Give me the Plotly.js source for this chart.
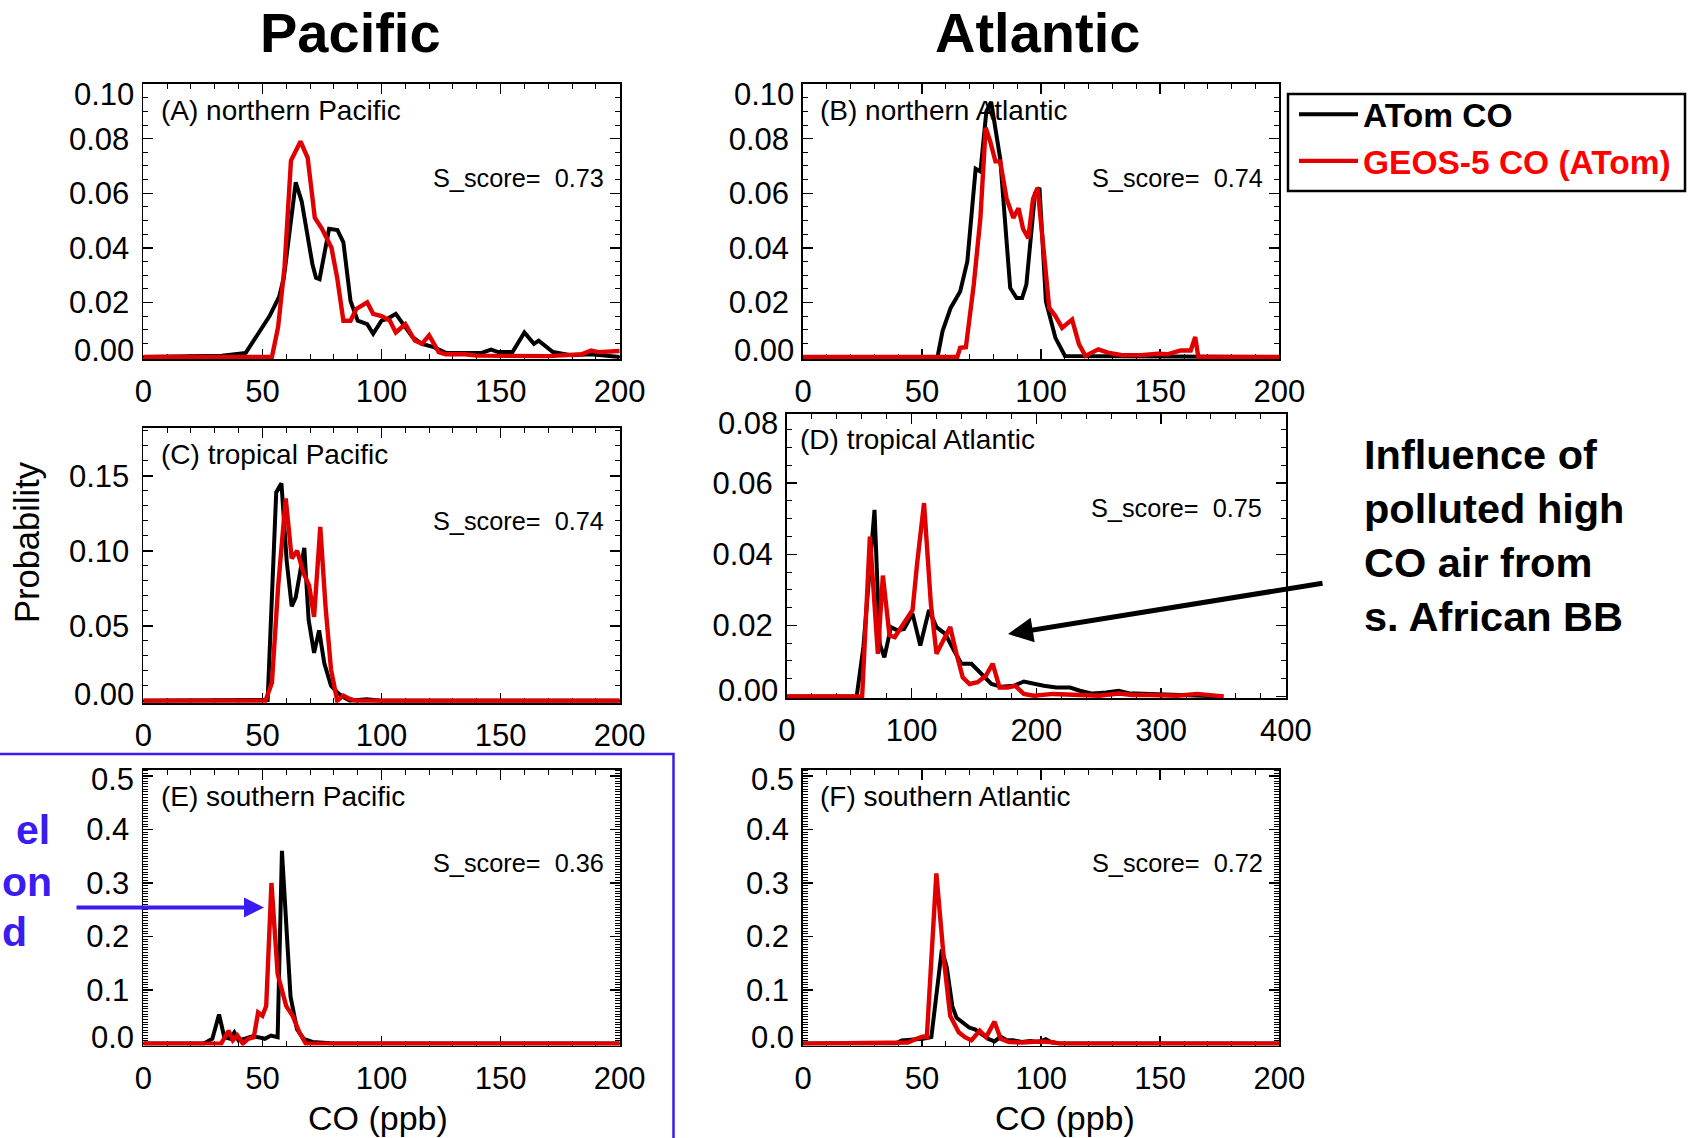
<!DOCTYPE html>
<html>
<head>
<meta charset="utf-8">
<script src="https://cdn.plot.ly/plotly-3.0.1.min.js"></script>
<style>html,body{margin:0;padding:0;background:#fff;} #chart{width:1690px;height:1138px;}</style>
</head>
<body>
<div id="chart"></div>
<script>
// ---------------- DATA ----------------
// Panel A: northern Pacific
const nPacObsX = [0, 33, 43, 48, 53, 57, 59, 64, 66.5, 71, 72.5, 74, 78, 81.5, 84, 87, 90, 94, 96.5, 100, 102.5, 106, 110, 113, 117, 122, 127, 134, 142, 146, 149, 155, 160, 164, 166, 172, 180, 188, 200];
const nPacObsY = [0, 0.0005, 0.0015, 0.0085, 0.015, 0.022, 0.029, 0.064, 0.057, 0.034, 0.029, 0.0285, 0.047, 0.0465, 0.042, 0.0205, 0.0133, 0.012, 0.0085, 0.0133, 0.014, 0.0158, 0.011, 0.0073, 0.0048, 0.0036, 0.0015, 0.0015, 0.0015, 0.0027, 0.0018, 0.0018, 0.009, 0.0048, 0.006, 0.0018, 0.0006, 0.001, 0];
const nPacModX = [0, 54, 56.6, 59.3, 62, 66, 69, 72, 75, 79, 81.4, 84, 87, 89.4, 94, 96.5, 100, 103.5, 106, 110, 114, 117, 120, 124, 127, 135, 140, 150, 160, 170, 184, 188, 191, 200];
const nPacModY = [0, 0, 0.011, 0.033, 0.072, 0.079, 0.073, 0.051, 0.047, 0.040, 0.029, 0.0133, 0.0133, 0.0176, 0.020, 0.0158, 0.015, 0.0133, 0.009, 0.012, 0.006, 0.0048, 0.0079, 0.0018, 0.001, 0.001, 0.0005, 0.0003, 0.0005, 0.0003, 0.001, 0.0024, 0.0018, 0.0022];
// Panel B: northern Atlantic
const nAtlObsX = [0, 56.5, 58.6, 62, 66, 69, 72.5, 74.5, 77, 79, 82.8, 87, 89.7, 92, 93.8, 97.4, 99.3, 102, 106, 110, 200];
const nAtlObsY = [0, 0, 0.0095, 0.018, 0.024, 0.035, 0.069, 0.068, 0.09, 0.0935, 0.0727, 0.0253, 0.0216, 0.0216, 0.0265, 0.060, 0.062, 0.0204, 0.007, 0.0004, 0];
const nAtlModX = [0, 64.8, 66, 68.4, 71.7, 74.5, 76.7, 78.6, 80.8, 82.8, 85.5, 88.3, 90.5, 92.4, 94.6, 96.6, 98.5, 100.7, 103.4, 106, 108.8, 113, 115.9, 118.6, 124, 128, 134, 142, 149, 153, 158.6, 162.8, 164.7, 166, 200];
const nAtlModY = [0, 0, 0.0034, 0.0036, 0.0265, 0.051, 0.084, 0.079, 0.0717, 0.0717, 0.058, 0.051, 0.0545, 0.047, 0.0435, 0.058, 0.062, 0.042, 0.018, 0.015, 0.0107, 0.0137, 0.0046, 0.0004, 0.0028, 0.0016, 0.0007, 0.0007, 0.0012, 0.001, 0.0024, 0.0024, 0.0073, 0, 0];
// Panel C: tropical Pacific
const tPacObsX = [0, 50.4, 52.2, 55.8, 58, 60.2, 62.3, 64, 65.8, 67.6, 69.4, 71.7, 73.8, 76, 78.8, 81.4, 84, 86.7, 93.8, 100, 200];
const tPacObsY = [0, 0, 0.0005, 0.139, 0.145, 0.093, 0.063, 0.069, 0.087, 0.102, 0.054, 0.032, 0.047, 0.025, 0.010, 0.0057, 0.0024, 0, 0.001, 0, 0];
const tPacModX = [0, 51.3, 54, 56.6, 59.8, 62.3, 64.6, 67.3, 69.6, 71.7, 74.3, 76.5, 78.8, 81.4, 84, 86.7, 89.4, 200];
const tPacModY = [0, 0, 0.012, 0.076, 0.135, 0.095, 0.10, 0.085, 0.077, 0.056, 0.116, 0.063, 0.021, 0, 0.0035, 0.0013, 0, 0];
// Panel D: tropical Atlantic
const tAtlObsX = [0, 56, 61.4, 67.7, 70.3, 74.5, 78.2, 83.5, 88.7, 94, 100.8, 107, 114, 120, 127, 134, 140, 148, 156, 164, 172, 182, 190, 198, 206, 216, 227, 235, 245, 256, 266, 274, 287, 308, 329, 350];
const tAtlObsY = [0, 0, 0.0139, 0.042, 0.0525, 0.0148, 0.011, 0.0195, 0.0186, 0.019, 0.0233, 0.0143, 0.0243, 0.0195, 0.0176, 0.0129, 0.0092, 0.0092, 0.0063, 0.0035, 0.0027, 0.003, 0.0042, 0.0035, 0.003, 0.0025, 0.0025, 0.0016, 0.0008, 0.0011, 0.0016, 0.0009, 0.0007, 0.0004, 0.0002, 0];
const tAtlModX = [0, 60.4, 66.6, 73, 77, 82.3, 86.6, 94, 100.8, 104.5, 110, 115.5, 120, 125.5, 131, 136, 141, 146.5, 153, 159.5, 165, 170.6, 177, 183, 190, 198, 213.6, 235, 250, 266, 277, 292, 313, 329, 340, 350];
const tAtlModY = [0, 0, 0.045, 0.012, 0.034, 0.0172, 0.0167, 0.0205, 0.0243, 0.0375, 0.0544, 0.026, 0.012, 0.0158, 0.0195, 0.012, 0.0054, 0.0035, 0.004, 0.0058, 0.0092, 0.0025, 0.0025, 0.003, 0.0007, 0.0002, 0.0007, 0.0004, 0.0002, 0.0008, 0.0004, 0.0004, 0.0002, 0.0007, 0.0004, 0];
// Panel E: southern Pacific
const sPacObsX = [0, 25.5, 29, 31.8, 34, 36.4, 38.2, 40, 42.7, 45.5, 48.2, 51, 53.6, 56.4, 58.2, 61.8, 64.5, 67.3, 71, 76.4, 80, 200];
const sPacObsY = [0, 0, 0.009, 0.0545, 0.012, 0.009, 0.021, 0.006, 0.009, 0.013, 0.012, 0.009, 0.015, 0.012, 0.36, 0.088, 0.027, 0.009, 0.003, 0.001, 0, 0];
const sPacModX = [0, 32.7, 35.8, 37.6, 39.5, 41.8, 44, 46.4, 48.2, 50, 51.6, 53.8, 56.4, 60, 62.7, 65.5, 68.2, 200];
const sPacModY = [0, 0, 0.024, 0.006, 0.015, 0, 0.009, 0.012, 0.058, 0.052, 0.07, 0.30, 0.13, 0.07, 0.052, 0.021, 0, 0];
// Panel F: southern Atlantic
const sAtlObsX = [0, 38.9, 41.5, 46, 50.4, 53.9, 56.5, 58.3, 60.4, 62.7, 64.5, 67.1, 69.8, 72.4, 75, 77.7, 80.4, 83, 85.7, 88.3, 91.9, 95.4, 98.9, 102, 104, 107.8, 200];
const sAtlObsY = [0, 0, 0.006, 0.007, 0.009, 0.012, 0.118, 0.176, 0.142, 0.07, 0.048, 0.039, 0.030, 0.026, 0.018, 0.009, 0.004, 0.013, 0.006, 0.006, 0.003, 0.005, 0.003, 0.008, 0.003, 0, 0];
const sAtlModX = [0, 37, 44, 47.7, 50.4, 52, 56, 59.2, 61.8, 65.4, 68, 70.7, 74.2, 76.9, 80.4, 83, 86.6, 91.9, 98.9, 104, 107.8, 200];
const sAtlModY = [0, 0, 0.002, 0.009, 0.013, 0.012, 0.318, 0.155, 0.052, 0.021, 0.012, 0.006, 0.024, 0.012, 0.041, 0.009, 0.003, 0.002, 0.004, 0.003, 0, 0];

const panelLabels = ["(A) northern Pacific", "(B) northern Atlantic", "(C) tropical Pacific", "(D) tropical Atlantic", "(E) southern Pacific", "(F) southern Atlantic"];
const sScores = ["0.73", "0.74", "0.74", "0.75", "0.36", "0.72"];
const seriesNames = ["ATom CO", "GEOS-5 CO (ATom)"];
const columnTitles = ["Pacific", "Atlantic"];
const yTickVals = [[0, 0.02, 0.04, 0.06, 0.08, 0.10], [0, 0.02, 0.04, 0.06, 0.08, 0.10], [0, 0.05, 0.10, 0.15], [0, 0.02, 0.04, 0.06, 0.08], [0, 0.1, 0.2, 0.3, 0.4, 0.5], [0, 0.1, 0.2, 0.3, 0.4, 0.5]];
const xTickVals = [[0, 50, 100, 150, 200], [0, 50, 100, 150, 200], [0, 50, 100, 150, 200], [0, 100, 200, 300, 400], [0, 50, 100, 150, 200], [0, 50, 100, 150, 200]];
const annotText = "Influence of<br>polluted high<br>CO air from<br>s. African BB";
const blueFragments = ["el", "on", "d"];

// ---------------- LAYOUT ----------------
const W = 1690, H = 1138;
const FONT = "Liberation Sans, Arial, Helvetica, sans-serif";
const BLACK = "#000000", RED = "#e00000", BLUE = "#3a1cf2";
// pixel frames [left, right, top, bottom]
const frames = [
  [143.3, 619.7, 84.1, 358.9],
  [803.0, 1279.3, 84.1, 358.9],
  [143.3, 619.7, 427.9, 702.7],
  [786.8, 1285.8, 413.9, 698.4],
  [143.3, 619.7, 769.5, 1045.5],
  [803.0, 1279.3, 769.5, 1045.5]
];
const yTop = [0.10, 0.10, 0.182, 0.0795, 0.512, 0.512];
const xMax = [200, 200, 200, 400, 200, 200];
const yMinor = [0.005, 0.005, 0.01, 0.005, 0.005, 0.005];
const xMinor = [10, 10, 10, 20, 10, 10];
const yDec = [2, 2, 2, 2, 1, 1];
const topLabelShifted = [true, true, false, true, true, true];

const obsX = [nPacObsX, nAtlObsX, tPacObsX, tAtlObsX, sPacObsX, sAtlObsX];
const obsY = [nPacObsY, nAtlObsY, tPacObsY, tAtlObsY, sPacObsY, sAtlObsY];
const modX = [nPacModX, nAtlModX, tPacModX, tAtlModX, sPacModX, sAtlModX];
const modY = [nPacModY, nAtlModY, tPacModY, tAtlModY, sPacModY, sAtlModY];

const traces = [];
const layout = {
  width: W, height: H,
  margin: {l: 0, r: 0, t: 0, b: 0},
  paper_bgcolor: "#ffffff", plot_bgcolor: "#ffffff",
  font: {family: FONT, color: BLACK},
  showlegend: true,
  legend: {
    x: 1294 / W, y: 1 - 86 / H, xanchor: "left", yanchor: "top",
    borderwidth: 0, bgcolor: "rgba(0,0,0,0)",
    font: {family: FONT, size: 33.5, weight: "bold", color: BLACK},
    itemwidth: 59, tracegroupgap: 0
  },
  annotations: [], shapes: []
};

const tickFont = {family: FONT, size: 31, color: BLACK};
for (let i = 0; i < 6; i++) {
  const n = i === 0 ? "" : String(i + 1);
  const [L, R, T, B] = frames[i];
  const yPad = yTop[i] * 0.007;
  const yt = yTickVals[i];
  const ytext = yt.map((v, k) => {
    if (k === 0) return "";
    if (k === yt.length - 1 && topLabelShifted[i]) return "";
    return v.toFixed(yDec[i]);
  });
  layout["xaxis" + n] = {
    domain: [L / W, R / W], anchor: "y" + n, range: [0, xMax[i]],
    tickmode: "array", tickvals: xTickVals[i], ticktext: xTickVals[i].map(String),
    ticks: "inside", ticklen: 10, tickwidth: 1.5, tickcolor: BLACK,
    minor: {tickmode: "linear", tick0: 0, dtick: xMinor[i], ticks: "inside", ticklen: 5, tickwidth: 1, tickcolor: BLACK, showgrid: false},
    showline: true, linecolor: BLACK, linewidth: 1.8, mirror: "ticks",
    showgrid: false, zeroline: false, tickfont: tickFont, ticklabelstandoff: 4,
    automargin: false, fixedrange: true, layer: "below traces"
  };
  layout["yaxis" + n] = {
    domain: [1 - B / H, 1 - T / H], anchor: "x" + n, range: [-yPad, yTop[i]],
    tickmode: "array", tickvals: yt, ticktext: ytext,
    ticks: "inside", ticklen: 10, tickwidth: 1.5, tickcolor: BLACK,
    minor: {tickmode: "linear", tick0: 0, dtick: yMinor[i], ticks: "inside", ticklen: 5, tickwidth: 1, tickcolor: BLACK, showgrid: false},
    showline: true, linecolor: BLACK, linewidth: 1.8, mirror: "ticks",
    showgrid: false, zeroline: false, tickfont: tickFont, ticklabelstandoff: 6,
    automargin: false, fixedrange: true, layer: "below traces"
  };
  // end tick labels placed inside the frame height, as in the IDL original
  layout.annotations.push({
    xref: "x" + n + " domain", yref: "y" + n, x: 0, y: 0, xanchor: "right", yanchor: "middle",
    xshift: -7, yshift: 6, text: (0).toFixed(yDec[i]), showarrow: false, font: tickFont
  });
  if (topLabelShifted[i]) {
    layout.annotations.push({
      xref: "x" + n + " domain", yref: "y" + n + " domain", x: 0, y: 1, xanchor: "right", yanchor: "middle",
      xshift: -7, yshift: -10, text: yt[yt.length - 1].toFixed(yDec[i]), showarrow: false, font: tickFont
    });
  }
  // panel label and score
  layout.annotations.push({
    xref: "x" + n + " domain", yref: "y" + n + " domain", x: (i === 3 ? 0.022 : 0.032), y: (i === 3 ? 0.91 : 0.903),
    xanchor: "left", yanchor: "middle", text: panelLabels[i], showarrow: false,
    font: {family: FONT, size: 28, color: BLACK}
  });
  layout.annotations.push({
    xref: "x" + n + " domain", yref: "y" + n + " domain", x: (i === 3 ? 0.957 : 0.971), y: (i === 3 ? 0.668 : 0.66),
    xanchor: "right", yanchor: "middle", text: "S_score=  " + sScores[i], showarrow: false,
    font: {family: FONT, size: 25.3, color: BLACK}
  });

  traces.push({
    type: "scatter", mode: "lines", x: obsX[i], y: obsY[i], xaxis: "x" + n, yaxis: "y" + n,
    name: seriesNames[0], legendgroup: "obs", showlegend: i === 0,
    line: {color: BLACK, width: 4}, hoverinfo: "skip"
  });
  traces.push({
    type: "scatter", mode: "lines", x: modX[i], y: modY[i], xaxis: "x" + n, yaxis: "y" + n,
    name: '<span style="color:#ff0000">' + seriesNames[1] + '</span>', legendgroup: "mod", showlegend: i === 0,
    line: {color: RED, width: 4.4}, hoverinfo: "skip"
  });
}

// legend frame
layout.shapes.push({type: "rect", xref: "paper", yref: "paper", x0: 1288 / W, x1: 1685 / W, y0: 1 - 191 / H, y1: 1 - 94 / H,
  line: {color: BLACK, width: 2.5}, fillcolor: "rgba(0,0,0,0)"});
// column titles
layout.annotations.push({xref: "paper", yref: "paper", x: 350 / W, y: 1 - 32 / H, xanchor: "center", yanchor: "middle",
  text: "<b>" + columnTitles[0] + "</b>", showarrow: false, font: {family: FONT, size: 56, color: BLACK}});
layout.annotations.push({xref: "paper", yref: "paper", x: 1037 / W, y: 1 - 32 / H, xanchor: "center", yanchor: "middle",
  text: "<b>" + columnTitles[1] + "</b>", showarrow: false, font: {family: FONT, size: 56, color: BLACK}});
// axis titles
layout.annotations.push({xref: "paper", yref: "paper", x: 27 / W, y: 1 - 542 / H, xanchor: "center", yanchor: "middle",
  text: "Probability", textangle: -90, showarrow: false, font: {family: FONT, size: 34.5, color: BLACK}});
layout.annotations.push({xref: "paper", yref: "paper", x: 378 / W, y: 1 - 1118 / H, xanchor: "center", yanchor: "middle",
  text: "CO (ppb)", showarrow: false, font: {family: FONT, size: 34, color: BLACK}});
layout.annotations.push({xref: "paper", yref: "paper", x: 1065 / W, y: 1 - 1118 / H, xanchor: "center", yanchor: "middle",
  text: "CO (ppb)", showarrow: false, font: {family: FONT, size: 34, color: BLACK}});
// right-hand note and arrow
layout.annotations.push({xref: "paper", yref: "paper", x: 1362 / W, y: 1 - 535 / H, xanchor: "left", yanchor: "middle", align: "left",
  text: "<b>" + annotText + "</b>", showarrow: false, font: {family: FONT, size: 41.5, color: BLACK}});
layout.annotations.push({xref: "paper", yref: "paper", x: 1008 / W, y: 1 - 634 / H, ax: 316, ay: -51, axref: "pixel", ayref: "pixel",
  text: "", showarrow: true, arrowhead: 2, arrowsize: 1, arrowwidth: 5, arrowcolor: BLACK});
// blue (cropped) note, arrow and box
const blueX = [50.7, 0.5, 0.5];
const blueAnchor = ["right", "left", "left"];
const blueY = [830, 881.6, 932];
blueFragments.forEach((t, k) => {
  layout.annotations.push({xref: "paper", yref: "paper", x: blueX[k] / W, y: 1 - blueY[k] / H, xanchor: blueAnchor[k], yanchor: "middle",
    borderpad: 0, text: "<b>" + t + "</b>", showarrow: false, font: {family: FONT, size: 41, color: BLUE}});
});
layout.annotations.push({xref: "paper", yref: "paper", x: 264 / W, y: 1 - 907.5 / H, ax: -189, ay: 0, axref: "pixel", ayref: "pixel",
  text: "", showarrow: true, arrowhead: 2, arrowsize: 1, arrowwidth: 4, arrowcolor: BLUE});
layout.shapes.push({type: "rect", xref: "paper", yref: "paper", x0: -0.01, x1: 673.5 / W, y0: -0.01, y1: 1 - 754 / H,
  line: {color: BLUE, width: 2.5}, fillcolor: "rgba(0,0,0,0)"});

Plotly.newPlot("chart", traces, layout, {displayModeBar: false, staticPlot: true});
</script>
</body>
</html>
